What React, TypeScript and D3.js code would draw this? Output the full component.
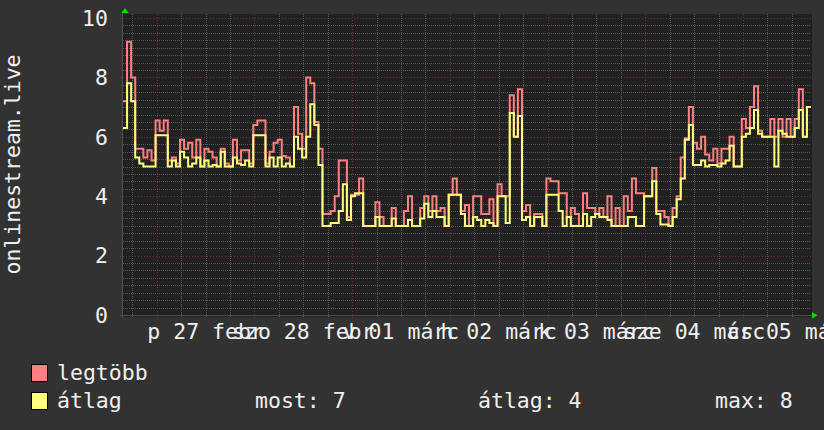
import { useEffect, useRef } from 'react';
import * as d3 from 'd3';

// hourly samples, starting 2015-02-26 15:43
const maxValues = [
  7.2, 9.2, 8.0, 5.6, 5.6, 5.3, 5.55, 5.2, 6.55, 6.2, 6.55, 5.2, 5.3, 5.1, 5.9, 5.6, 5.8, 5.3, 5.9, 5.0,
  5.6, 5.5, 5.3, 5.0, 5.6, 5.1, 5.0, 5.9, 5.2, 5.55, 5.55, 5.1, 6.4, 6.55, 6.55, 5.1, 5.5, 5.8, 5.9, 5.35,
  5.3, 5.0, 7.0, 6.1, 5.6, 8.0, 7.8, 6.5, 5.6, 3.4, 3.4, 3.5, 4.0, 5.2, 5.2, 3.3, 4.05, 4.05, 4.6, 3.0,
  3.0, 3.0, 3.8, 3.3, 3.0, 3.0, 3.6, 3.0, 3.0, 3.5, 4.0, 3.0, 3.0, 3.6, 4.0, 3.5, 4.0, 3.5, 3.6, 3.0,
  4.05, 4.6, 4.05, 3.5, 3.7, 3.0, 4.0, 4.0, 3.4, 3.4, 3.9, 3.0, 4.4, 4.0, 4.0, 7.4, 6.0, 7.6, 3.5, 3.7,
  3.0, 3.4, 3.4, 3.0, 4.6, 4.5, 4.5, 4.1, 4.1, 3.3, 3.6, 3.4, 3.0, 4.1, 3.6, 3.6, 3.4, 3.6, 3.3, 4.0,
  3.0, 3.6, 3.0, 4.0, 3.5, 4.6, 4.1, 4.1, 4.0, 4.0, 4.95, 3.5, 3.5, 3.3, 3.0, 3.6, 4.0, 5.3, 5.95, 7.0,
  5.8, 5.6, 6.0, 5.4, 5.2, 5.6, 5.1, 5.6, 5.6, 6.0, 5.0, 5.0, 6.6, 6.3, 7.0, 7.7, 6.2, 6.0, 6.0, 6.6,
  6.0, 6.6, 6.0, 6.6, 6.0, 6.6, 7.6, 6.0, 7.0,
];

const avgValues = [
  6.3, 7.8, 7.2, 5.3, 5.1, 5.0, 5.0, 5.0, 6.05, 6.05, 6.05, 5.0, 5.2, 5.0, 5.5, 5.3, 5.0, 5.1, 5.3, 5.0,
  5.2, 5.0, 5.05, 5.0, 5.5, 5.0, 5.0, 5.3, 5.1, 5.05, 5.2, 5.0, 6.05, 6.05, 6.05, 5.0, 5.3, 5.0, 5.3, 5.0,
  5.1, 5.0, 6.0, 5.6, 5.3, 6.0, 7.1, 6.4, 5.05, 3.0, 3.0, 3.1, 3.1, 3.5, 4.4, 3.2, 4.0, 4.1, 4.1, 3.0,
  3.0, 3.0, 3.3, 3.0, 3.0, 3.0, 3.25, 3.0, 3.0, 3.0, 3.2, 3.0, 3.0, 3.25, 3.75, 3.3, 3.5, 3.3, 3.3, 3.0,
  4.05, 4.05, 4.05, 3.4, 3.0, 3.0, 3.3, 3.2, 3.0, 3.2, 3.1, 3.0, 4.0, 4.0, 3.1, 6.8, 6.0, 6.7, 3.2, 3.3,
  3.0, 3.3, 3.3, 3.0, 4.05, 4.05, 4.05, 3.5, 3.0, 3.3, 3.0, 3.0, 3.0, 3.4, 3.0, 3.3, 3.4, 3.3, 3.3, 3.2,
  3.0, 3.0, 3.0, 3.0, 3.3, 3.3, 3.0, 3.0, 4.0, 4.0, 4.5, 3.4, 3.05, 3.05, 3.0, 3.3, 3.9, 4.6, 5.9, 6.4,
  5.05, 5.05, 5.2, 5.0, 5.05, 5.05, 5.0, 5.1, 5.2, 5.7, 5.0, 5.0, 6.0, 6.1, 6.3, 6.9, 6.1, 6.0, 6.0, 6.0,
  5.0, 6.2, 6.1, 6.0, 6.0, 6.3, 6.9, 6.0, 7.0,
];

const dayLabels = ['p 27 febr', 'szo 28 febr', 'v 01 márc', 'h 02 márc', 'k 03 márc', 'sze 04 márc', 'cs 05 márc'];
const yTicks = [0, 2, 4, 6, 8, 10];
const seriesNames = ['legtöbb', 'átlag'];
const seriesColors = ['#ff8080', '#ffff80'];
const statLabels = ['most: 7', 'átlag: 4', 'max: 8'];

const START = new Date(2015, 1, 26, 15, 43);
const FIRST_DAY = new Date(2015, 1, 27);

export default function App() {
  const svgRef = useRef<SVGSVGElement>(null);

  useEffect(() => {
    if (!svgRef.current) return;
    const width = 824;
    const height = 430;
    const font = '"DejaVu Sans Mono", monospace';
    const fontSize = 21.5;

    const svg = d3.select(svgRef.current);
    svg.selectAll('*').remove();
    svg.attr('width', width).attr('height', height);

    svg.append('rect').attr('width', width).attr('height', height).attr('fill', '#323232');

    const end = d3.timeHour.offset(START, maxValues.length);
    const x = d3.scaleTime().domain([START, end]).range([123, 811]);
    const y = d3.scaleLinear().domain([0, 10]).range([315, 18]);

    // canvas
    svg.append('rect')
      .attr('x', x.range()[0] - 1).attr('y', 14)
      .attr('width', x.range()[1] - x.range()[0] + 2).attr('height', y(0) - 14 + 2)
      .attr('fill', '#212121');

    const grid = svg.append('g').attr('shape-rendering', 'crispEdges');
    const minorColor = '#555555';
    const majorColor = '#6e3232';

    // horizontal grid
    const minorY = d3.range(0, 10.01, 0.25).filter(v => Math.abs(v % 2) > 0.01);
    grid.selectAll('.hminor').data(minorY).enter().append('line')
      .attr('x1', x.range()[0]).attr('x2', x.range()[1])
      .attr('y1', d => Math.round(y(d)) + 0.5).attr('y2', d => Math.round(y(d)) + 0.5)
      .attr('stroke', minorColor).attr('stroke-dasharray', '1,1');
    grid.selectAll('.hmajor').data(yTicks).enter().append('line')
      .attr('x1', x.range()[0] - 3).attr('x2', x.range()[1])
      .attr('y1', d => Math.round(y(d)) + 0.5).attr('y2', d => Math.round(y(d)) + 0.5)
      .attr('stroke', majorColor).attr('stroke-dasharray', '1,2');

    // vertical grid
    const days = d3.timeDay.range(START, end);
    const minorX = d3.timeHour.every(6)!.range(START, end).filter(d => d.getHours() !== 0);
    grid.selectAll('.vminor').data(minorX).enter().append('line')
      .attr('x1', d => Math.round(x(d)) + 0.5).attr('x2', d => Math.round(x(d)) + 0.5)
      .attr('y1', 14).attr('y2', y(0) + 3)
      .attr('stroke', minorColor).attr('stroke-dasharray', '1,1');
    grid.selectAll('.vmajor').data(days).enter().append('line')
      .attr('x1', d => Math.round(x(d)) + 0.5).attr('x2', d => Math.round(x(d)) + 0.5)
      .attr('y1', 14).attr('y2', y(0) + 3)
      .attr('stroke', majorColor).attr('stroke-dasharray', '1,2');

    // axes
    grid.append('line')
      .attr('x1', x.range()[0] - 3).attr('x2', x.range()[1] + 2)
      .attr('y1', y(0) + 0.5).attr('y2', y(0) + 0.5).attr('stroke', '#505050');
    grid.append('line')
      .attr('x1', x.range()[0] - 0.5).attr('x2', x.range()[0] - 0.5)
      .attr('y1', 12).attr('y2', y(0) + 3).attr('stroke', '#505050');
    svg.append('path').attr('d', 'M121.5,13 L128.5,13 L125,8 Z').attr('fill', '#00dd00');
    svg.append('path').attr('d', 'M812,312 L812,318.5 L817.5,315.2 Z').attr('fill', '#00dd00');

    // series
    const line = d3.line<number>()
      .x((_, i) => x(d3.timeHour.offset(START, i)))
      .y(d => y(d))
      .curve(d3.curveStepAfter);
    [maxValues, avgValues].forEach((vals, k) => {
      svg.append('path')
        .attr('d', line([...vals, vals[vals.length - 1]]))
        .attr('fill', 'none')
        .attr('stroke', seriesColors[k])
        .attr('stroke-width', 2)
        .attr('stroke-linejoin', 'miter');
    });

    const text = svg.append('g')
      .attr('font-family', font).attr('font-size', fontSize).attr('fill', '#f0f0f0');

    // y tick labels
    text.selectAll('.ytick').data(yTicks).enter().append('text')
      .attr('x', 108).attr('y', d => y(d))
      .attr('dy', '0.36em').attr('text-anchor', 'end')
      .text(d => d);

    // x day labels at noon
    text.selectAll('.xtick').data(dayLabels).enter().append('text')
      .attr('x', (_, i) => x(d3.timeHour.offset(d3.timeDay.offset(FIRST_DAY, i), 12)))
      .attr('y', 339).attr('text-anchor', 'middle')
      .text(d => d);

    // vertical title
    text.append('text')
      .attr('transform', `translate(20,${(14 + y(0)) / 2}) rotate(-90)`)
      .attr('text-anchor', 'middle')
      .text('onlinestream.live');

    // legend
    seriesNames.forEach((name, k) => {
      const ly = 364 + k * 28;
      svg.append('rect')
        .attr('x', 31.5).attr('y', ly + 0.5).attr('width', 16).attr('height', 17)
        .attr('fill', seriesColors[k]).attr('stroke', '#000');
      text.append('text').attr('x', 57).attr('y', ly + 16).text(name);
    });
    const statX = [255, 478, 715];
    text.selectAll('.stat').data(statLabels).enter().append('text')
      .attr('x', (_, i) => statX[i]).attr('y', 408)
      .text(d => d);
  }, []);

  return (
    <div style={{ position: 'absolute', left: 0, top: 0, width: 824, height: 430 }}>
      <svg ref={svgRef} style={{ display: 'block' }} />
    </div>
  );
}
